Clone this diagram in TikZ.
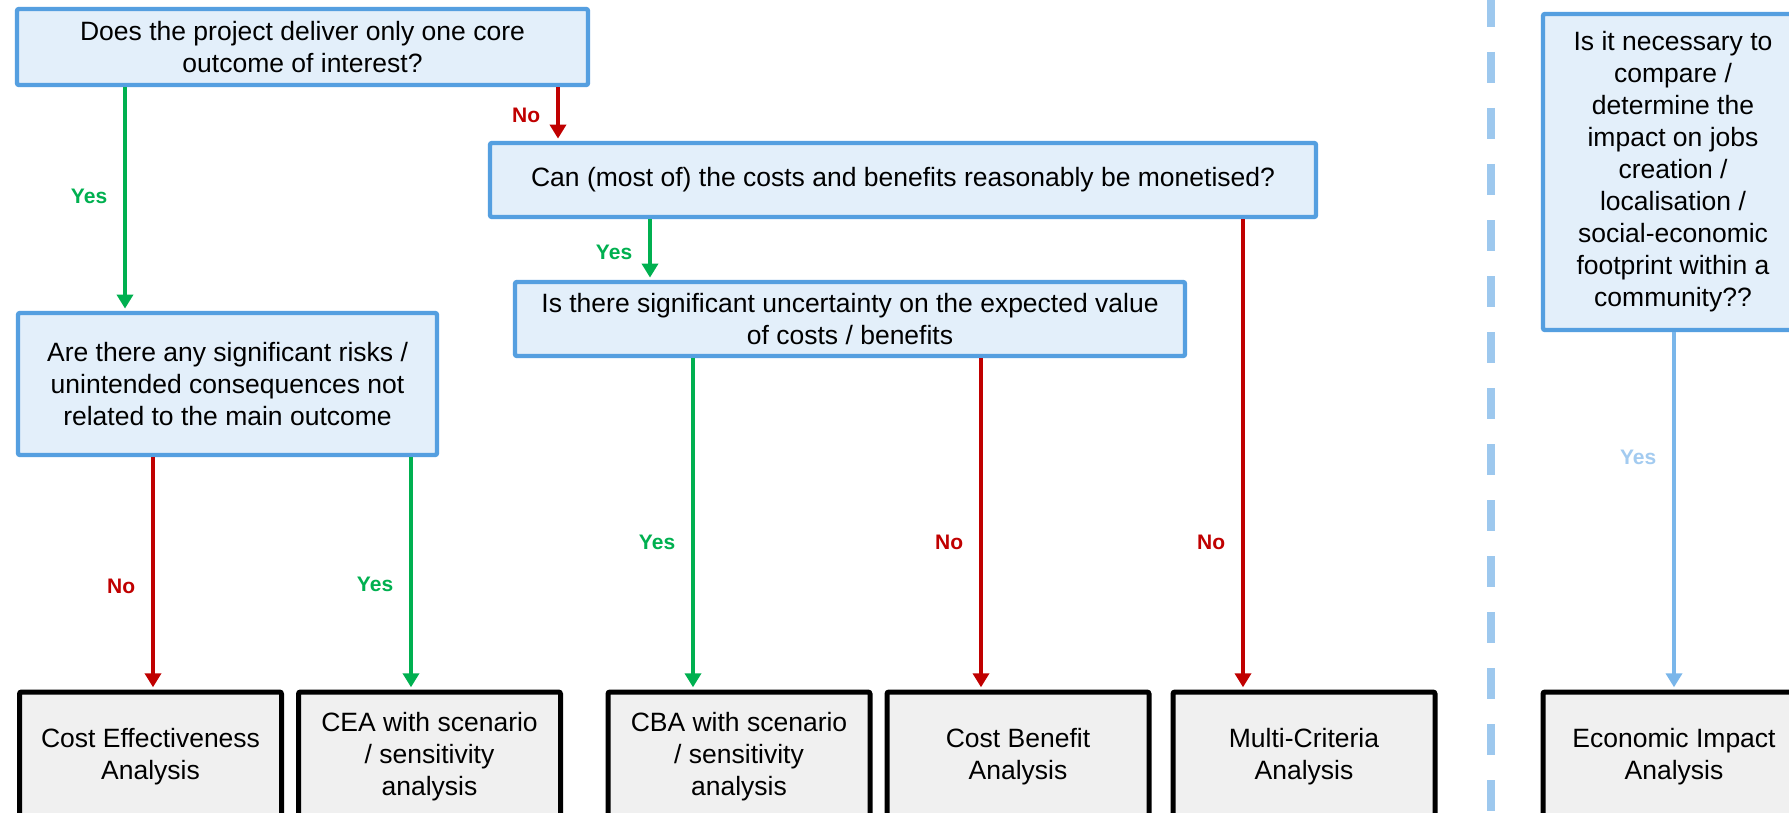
\documentclass[tikz,border=0pt]{standalone}
\usepackage{fontspec}
\setmainfont{Liberation Sans}
\usetikzlibrary{arrows.meta}
\definecolor{qfill}{HTML}{E3EFFA}
\definecolor{qdraw}{HTML}{559FE0}
\definecolor{bfill}{HTML}{F0F0F0}
\definecolor{ygreen}{HTML}{00B050}
\definecolor{nred}{HTML}{C00000}
\definecolor{lblue}{HTML}{7AB6EA}
\definecolor{lbluetxt}{HTML}{A3CBF0}
\definecolor{sepblue}{HTML}{9DC8EE}
\begin{document}
\begin{tikzpicture}[x=0.5pt,y=-0.5pt,
  txt/.style={font=\fontsize{13.25pt}{16pt}\selectfont},
  qbox/.style={txt,draw=qdraw,fill=qfill,line width=2.2pt,rounded corners=1pt,align=center,inner sep=0pt},
  rbox/.style={txt,draw=black,fill=bfill,line width=2.5pt,rounded corners=1pt,align=center,inner sep=0pt,minimum width=131pt,minimum height=65pt},
  arr/.style={line width=1.8pt,-{Triangle[width=8pt,length=7pt]},shorten >=1.1pt},
  yesarr/.style={arr,draw=ygreen},
  noarr/.style={arr,draw=nred},
  infarr/.style={arr,draw=lblue},
  lbl/.style={font=\fontsize{10.5pt}{12pt}\selectfont\bfseries,inner sep=0pt,left=8pt}]
\useasboundingbox (0,0) rectangle (1789,813);
\clip (0,0) rectangle (1789,813);
\fill[white] (0,0) rectangle (1789,813);

% separator
\draw[sepblue,line width=4pt,dash pattern=on 15.5pt off 12.5pt] (1491,-4) -- (1491,830);

% question boxes
\node[qbox,minimum width=285.5pt,minimum height=38pt] (q1) at (302.5,47)
  {Does the project deliver only one core\\outcome of interest?};
\node[qbox,minimum width=413pt,minimum height=37pt] (q3) at (903,180)
  {Can (most of) the costs and benefits reasonably be monetised?};
\node[qbox,minimum width=335pt,minimum height=37pt] (q4) at (850,319)
  {Is there significant uncertainty on the expected value\\of costs / benefits};
\node[qbox,minimum width=209.5pt,minimum height=71pt] (q2) at (227.5,384)
  {Are there any significant risks /\\unintended consequences not\\related to the main outcome};
\node[qbox,minimum width=130pt,minimum height=158pt] (q5) at (1673,172)
  {Is it necessary to\\compare /\\determine the\\impact on jobs\\creation /\\localisation /\\social-economic\\footprint within a\\community??};

% result boxes
\node[rbox] (b1) at (150.5,757) {Cost Effectiveness\\Analysis};
\node[rbox] (b2) at (429.5,757) {CEA with scenario\\/ sensitivity\\analysis};
\node[rbox] (b3) at (739,757) {CBA with scenario\\/ sensitivity\\analysis};
\node[rbox] (b4) at (1018,757) {Cost Benefit\\Analysis};
\node[rbox] (b5) at (1304,757) {Multi-Criteria\\Analysis};
\node[rbox] (b6) at (1674,757) {Economic Impact\\Analysis};

% connector columns
\coordinate (xa) at (125,0);
\coordinate (xb) at (558,0);
\coordinate (xc) at (650,0);
\coordinate (xd) at (1243,0);
\coordinate (xe) at (693,0);
\coordinate (xf) at (981,0);
\coordinate (xg) at (153,0);
\coordinate (xh) at (411,0);
\coordinate (xi) at (1674,0);

\draw[yesarr] (q1.south -| xa) -- node[lbl,pos=.487,text=ygreen]{Yes} (q2.north -| xa);
\draw[noarr] (q1.south -| xb) -- node[lbl,pos=.52,text=nred]{No} (q3.north -| xb);
\draw[yesarr] (q3.south -| xc) -- node[lbl,pos=.54,text=ygreen]{Yes} (q4.north -| xc);
\draw[noarr] (q3.south -| xd) -- node[lbl,pos=.687,text=nred]{No} (b5.north -| xd);
\draw[yesarr] (q4.south -| xe) -- node[lbl,pos=.556,text=ygreen]{Yes} (b3.north -| xe);
\draw[noarr] (q4.south -| xf) -- node[lbl,pos=.556,text=nred]{No} (b4.north -| xf);
\draw[noarr] (q2.south -| xg) -- node[lbl,pos=.556,text=nred]{No} (b1.north -| xg);
\draw[yesarr] (q2.south -| xh) -- node[lbl,pos=.547,text=ygreen]{Yes} (b2.north -| xh);
\draw[infarr] (q5.south -| xi) -- node[lbl,pos=.351,text=lbluetxt]{Yes} (b6.north -| xi);
\end{tikzpicture}
\end{document}
